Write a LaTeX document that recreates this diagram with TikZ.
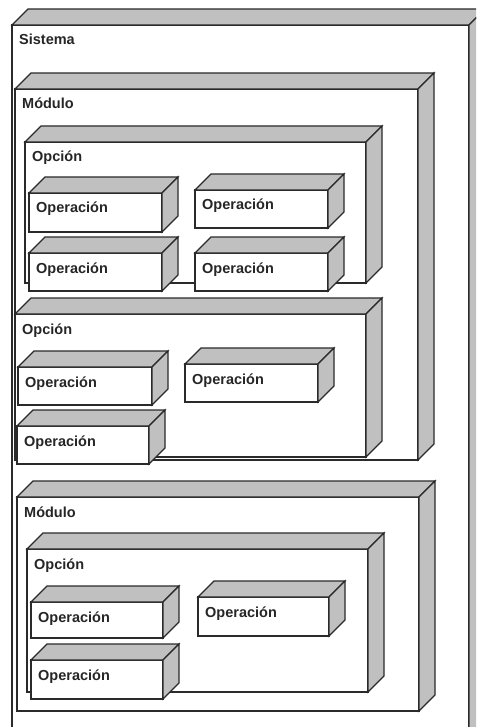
\documentclass[tikz,border=0pt]{standalone}
\usepackage{fontspec}
\setmainfont{Liberation Sans}
\usetikzlibrary{calc}
\definecolor{edge}{HTML}{2A2A2A}
\definecolor{face}{HTML}{C0C0C0}
\tikzset{
  x=1pt, y=-1pt,
  front/.style={draw=edge, line width=1.1pt, fill=white, inner sep=0pt, outer sep=0pt,
    anchor=north west, rectangle},
  shade3d/.style={draw=edge, line width=1.1pt, fill=face, line join=miter},
  lbl/.style={anchor=base west, inner sep=0pt, text=black!85,
    font=\fontsize{14.5}{14.5}\selectfont\bfseries},
}
% 3D box: name, left, top, width, height, label
\newcommand\solidbox[6]{%
  \node[front, minimum width=#4pt, minimum height=#5pt] (#1) at (#2,#3) {};
  \draw[shade3d] (#1.north west) -- ++(16,-16) -- ($(#1.north east)+(16,-16)$)
    -- (#1.north east) -- cycle;
  \draw[shade3d] (#1.north east) -- ++(16,-16) -- ($(#1.south east)+(16,-16)$)
    -- (#1.south east) -- cycle;
  \node[lbl] (#1-t) at ($(#1.north west)+(7,20)$) {#6};
}
\begin{document}
\begin{tikzpicture}
\useasboundingbox (0,0) rectangle (476,727);
\clip (0,0) rectangle (476,727);
% system
\solidbox{sys}{12}{25}{457}{800}{Sistema}
% first module
\solidbox{modA}{15}{89}{403}{371}{Módulo}
\solidbox{opcA}{25}{142}{341}{141}{Opción}
\solidbox{opAa}{29}{193}{133}{39}{Operación}
\solidbox{opAb}{195}{190}{133}{38}{Operación}
\solidbox{opAc}{29}{253}{133}{38}{Operación}
\solidbox{opAd}{195}{253}{133}{38}{Operación}
\solidbox{opcB}{15}{314}{351}{143}{Opción}
\solidbox{opBa}{18}{367}{134}{38}{Operación}
\solidbox{opBb}{185}{364}{133}{38}{Operación}
\solidbox{opBc}{17}{426}{132}{38}{Operación}
% second module
\solidbox{modB}{17}{497}{402}{214}{Módulo}
\solidbox{opcC}{27}{549}{341}{143}{Opción}
\solidbox{opCa}{31}{602}{132}{36}{Operación}
\solidbox{opCb}{198}{597}{131}{39}{Operación}
\solidbox{opCc}{31}{660}{132}{39}{Operación}
\end{tikzpicture}
\end{document}
